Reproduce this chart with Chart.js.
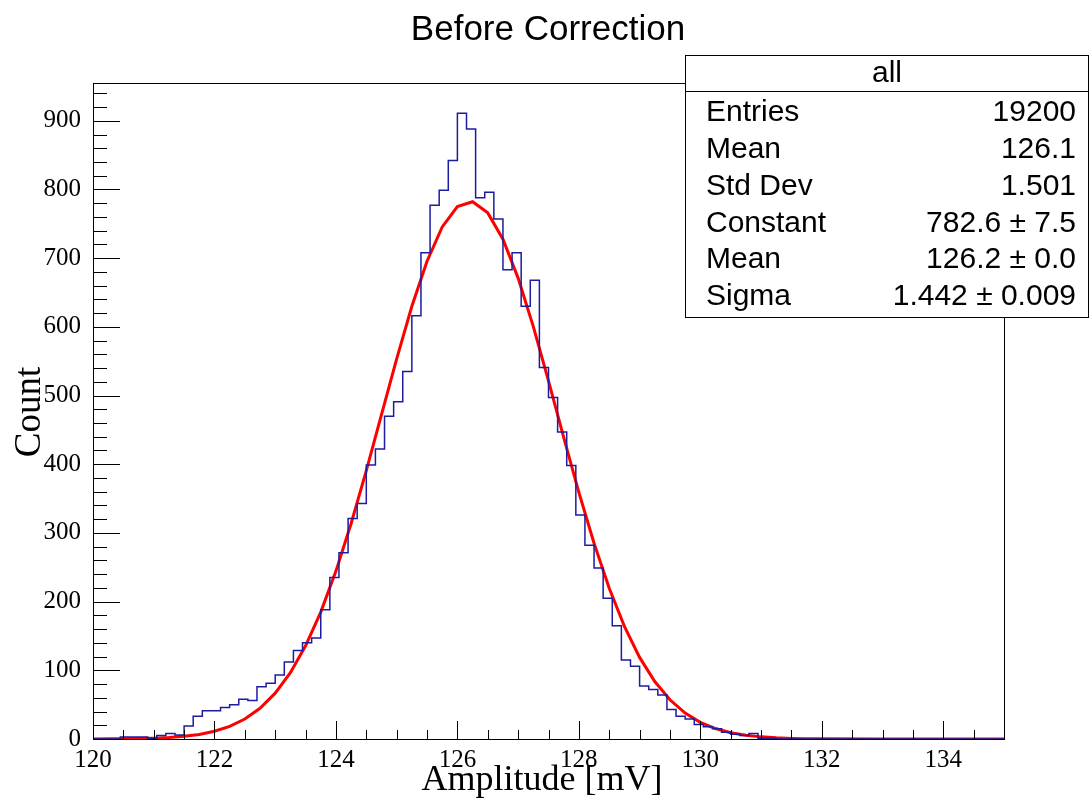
<!DOCTYPE html>
<html>
<head>
<meta charset="utf-8">
<script src="https://cdn.jsdelivr.net/npm/chart.js@4.4.1/dist/chart.umd.min.js"></script>
<style>
  html,body{margin:0;padding:0;background:#fff}
  canvas{display:block}
</style>
</head>
<body>
<canvas id="c" width="1091" height="802"></canvas>
<script>
// histogram: 100 bins from 120 to 135 (width 0.15)
const HIST_MIN = 120;
const BIN_WIDTH = 0.15;
const binCounts = [
  0,0,0,3,3,3,1,5,8,6,
  19,33,41,41,46,50,58,56,76,81,
  93,112,129,140,147,188,235,271,321,343,
  399,422,470,491,535,616,708,777,799,842,
  911,888,788,796,757,683,708,630,668,541,
  497,447,398,326,282,249,205,165,115,106,
  77,72,64,43,33,29,21,18,15,10,
  7,5,8,1,1,0,0,0,0,0,
  0,0,0,0,0,0,0,0,0,0,
  0,0,0,0,0,0,0,0,0,0
];

// gaus fit curve
const fitX = [120,120.25,120.5,120.75,121,121.25,121.5,121.75,122,122.25,122.5,122.75,
  123,123.25,123.5,123.75,124,124.25,124.5,124.75,125,125.25,125.5,125.75,
  126,126.25,126.5,126.75,127,127.25,127.5,127.75,128,128.25,128.5,128.75,
  129,129.25,129.5,129.75,130,130.25,130.5,130.75,131,131.25,131.5,131.75,132,133,134,135];
const fitY = [0.1,0.2,0.3,0.6,1.2,2.2,3.9,6.7,11.3,18.4,29.1,44.7,
  66.7,96.6,135.6,184.8,244.4,313.7,390.6,472.1,553.5,629.9,695.6,745.4,
  775.1,782.1,765.9,727.7,671.0,600.3,521.3,439.2,359.1,284.9,219.4,163.9,
  118.8,83.6,57.1,37.8,24.3,15.2,9.2,5.4,3.1,1.7,0.9,0.5,0.2,0,0,0];

const xTicks = [120,122,124,126,128,130,132,134];
const yTicks = [0,100,200,300,400,500,600,700,800,900];

const statTitle = 'all';
const statLabels = ['Entries','Mean','Std Dev','Constant','Mean','Sigma'];
const statValues = ['19200','126.1','1.501','782.6 \u00b1 7.5','126.2 \u00b1 0.0','1.442 \u00b1 0.009'];

// point i on the left edge of bin i; 'before' keeps its y up to the next edge
const histPts = binCounts.map((v,i)=>({x: HIST_MIN + BIN_WIDTH*i, y: v}));
histPts.push({x: HIST_MIN + BIN_WIDTH*binCounts.length, y: binCounts[binCounts.length-1]});
const fitPts = fitX.map((x,i)=>({x, y: fitY[i]}));

// frame, inner ticks, titles and stats box
const rootDeco = {
  id:'rootDeco',
  afterDraw(chart){
    const ctx = chart.ctx, a = chart.chartArea;
    const xs = chart.scales.x, ys = chart.scales.y;
    ctx.save();
    ctx.strokeStyle = '#000'; ctx.lineWidth = 1;
    ctx.strokeRect(Math.round(a.left)+0.5, Math.round(a.top)+0.5, Math.round(a.right-a.left), Math.round(a.bottom-a.top));

    ctx.beginPath();
    for(let v=120; v<=135.001; v+=0.5){
      const px = Math.round(xs.getPixelForValue(v))+0.5;
      const len = (Math.abs(v/2-Math.round(v/2))<1e-6) ? 18 : 9;
      ctx.moveTo(px, a.bottom); ctx.lineTo(px, a.bottom-len);
    }
    for(let v=0; v<=955; v+=20){
      const py = Math.round(ys.getPixelForValue(v))+0.5;
      const len = (v%100===0) ? 27 : 14;
      ctx.moveTo(a.left, py); ctx.lineTo(a.left+len, py);
    }
    ctx.stroke();

    ctx.fillStyle = '#000';
    ctx.textAlign = 'center'; ctx.textBaseline = 'middle';
    ctx.font = '35px "Liberation Sans"';
    ctx.fillText('Before Correction', 548, 30);

    ctx.font = '36px "Liberation Serif"';
    ctx.fillText('Amplitude [mV]', 542, 781);
    ctx.save();
    ctx.translate(30, 412); ctx.rotate(-Math.PI/2);
    ctx.font = '37px "Liberation Serif"';
    ctx.fillText('Count', 0, 0);
    ctx.restore();

    // stats box
    const bx = 685, by = 55, bw = 404, bh = 263;
    ctx.fillStyle = '#fff'; ctx.fillRect(bx, by, bw, bh);
    ctx.strokeRect(bx+0.5, by+0.5, bw-1, bh-1);
    ctx.beginPath(); ctx.moveTo(bx, 91.5); ctx.lineTo(bx+bw, 91.5); ctx.stroke();
    ctx.fillStyle = '#000';
    ctx.font = '30px "Liberation Sans"';
    ctx.textAlign = 'center';
    ctx.fillText(statTitle, 887, 74);
    statLabels.forEach((lbl,i)=>{
      const y = 113 + i*36.8;
      ctx.textAlign = 'left'; ctx.fillText(lbl, 706, y);
      ctx.textAlign = 'right'; ctx.fillText(statValues[i], 1076, y);
    });
    ctx.restore();
  }
};

new Chart(document.getElementById('c'), {
  type:'line',
  data:{datasets:[
    {data: histPts, stepped:'before', borderColor:'#1c1ca0', borderWidth:1.5, pointRadius:0, fill:false},
    {data: fitPts, borderColor:'#ff0000', borderWidth:3, pointRadius:0, tension:0, fill:false}
  ]},
  options:{
    responsive:false, animation:false, devicePixelRatio:1,
    layout:{padding:{top:83, right:87, left:0, bottom:0}},
    plugins:{legend:{display:false}, tooltip:{enabled:false}},
    scales:{
      x:{type:'linear', min:120, max:135,
        afterFit(s){ s.height = 63; },
        afterBuildTicks(s){ s.ticks = xTicks.map(v=>({value:v})); },
        grid:{display:false, drawTicks:false}, border:{display:false},
        ticks:{padding:6, color:'#000', maxRotation:0, font:{family:'"Liberation Serif"', size:25}}},
      y:{type:'linear', min:0, max:955,
        afterFit(s){ s.width = 93; },
        afterBuildTicks(s){ s.ticks = yTicks.map(v=>({value:v})); },
        grid:{display:false, drawTicks:false}, border:{display:false},
        ticks:{padding:12, color:'#000', font:{family:'"Liberation Serif"', size:25}}}
    }
  },
  plugins:[rootDeco]
});
</script>
</body>
</html>
